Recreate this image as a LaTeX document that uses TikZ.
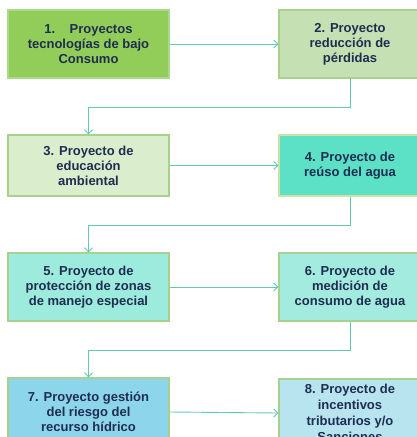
\documentclass[tikz,border=0pt]{standalone}
\usepackage{fontspec}
\setmainfont{Liberation Sans}
\usetikzlibrary{arrows.meta}
\definecolor{txt}{HTML}{1F2D50}
\definecolor{conn}{HTML}{62C9B4}
\definecolor{bdr}{HTML}{A9D18E}
\definecolor{f1}{HTML}{92CD5A}
\definecolor{d1}{HTML}{A8DA8C}
\definecolor{f2}{HTML}{C5E0B3}
\definecolor{f3}{HTML}{DAEDCD}
\definecolor{f4}{HTML}{5CE0C6}
\definecolor{d4}{HTML}{CDE3A6}
\definecolor{f5}{HTML}{9DEBDD}
\definecolor{f6}{HTML}{A3EBDE}
\definecolor{f7}{HTML}{8DD5EA}
\definecolor{f8}{HTML}{B7E4EF}
\tikzset{
  box/.style={draw=bdr, line width=1.3pt, align=center, inner sep=0pt,
    font=\fontsize{13}{15}\selectfont\bfseries, text=txt},
  link/.style={draw=conn, line width=0.9pt, -{Straight Barb[length=4pt,width=8pt]}},
}
\begin{document}
\begin{tikzpicture}[x=1pt,y=-1pt]
\useasboundingbox (0,0) rectangle (417,437);
\clip (0,0) rectangle (417,437);
\node[box, fill=f1, draw=d1, minimum width=161pt, minimum height=68pt] (b1) at (88.5,44) {1.\hspace{1.1em}Proyectos\\tecnologías de bajo\\Consumo};
\node[box, fill=f2, minimum width=142pt, minimum height=68pt] (b2) at (350,44) {2. Proyecto\\reducción de\\pérdidas};
\node[box, fill=f3, minimum width=161pt, minimum height=61pt] (b3) at (88.5,165.5) {3. Proyecto de\\educación\\ambiental};
\node[box, fill=f4, draw=d4, minimum width=142pt, minimum height=61pt] (b4) at (350,165.5) {4. Proyecto de\\reúso del agua};
\node[box, fill=f5, minimum width=161pt, minimum height=68pt] (b5) at (88.5,287) {5. Proyecto de\\protección de zonas\\de manejo especial};
\node[box, fill=f6, minimum width=142pt, minimum height=68pt] (b6) at (350,287) {6. Proyecto de\\medición de\\consumo de agua};
\node[box, fill=f7, minimum width=161pt, minimum height=68pt] (b7) at (88.5,412) {7. Proyecto gestión\\del riesgo del\\recurso hídrico};
\node[box, fill=f8, minimum width=142pt, minimum height=68pt, font=\fontsize{13}{16}\selectfont\bfseries] (b8) at (350,413) {8. Proyecto de\\incentivos\\tributarios y/o\\Sanciones};
\draw[link] (b1.east) -- (b2.west);
\draw[link] (b2.south) -- ++(0,28.5) -| (b3.north);
\draw[link] (b3.east) -- (b4.west);
\draw[link] (b4.south) -- ++(0,28.5) -| (b5.north);
\draw[link] (b5.east) -- (b6.west);
\draw[link] (b6.south) -- ++(0,28.5) -| (b7.north);
\draw[link] (b7.east) -- (b8.west);
\end{tikzpicture}
\end{document}
